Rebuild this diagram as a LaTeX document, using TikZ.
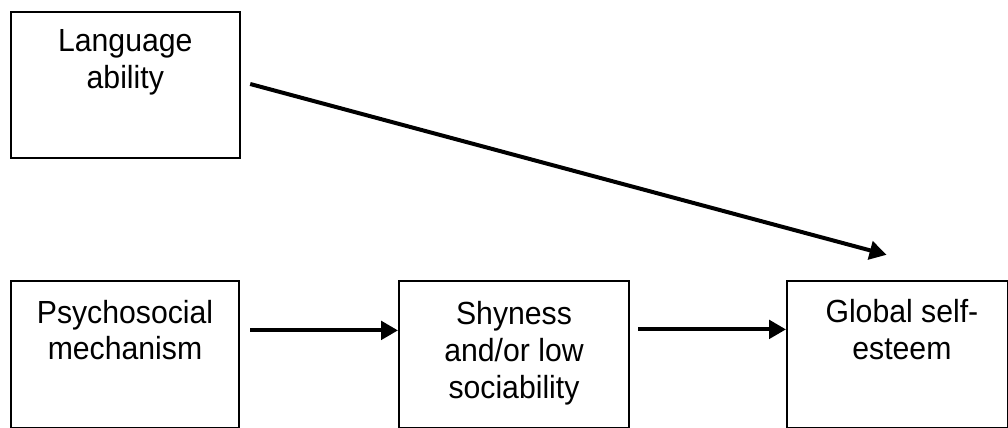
\documentclass[tikz,border=0pt]{standalone}
\usepackage{fontspec}
\setmainfont{Liberation Sans}[FakeStretch=0.944]
\usetikzlibrary{positioning,arrows.meta}
\begin{document}
\begin{tikzpicture}[
		box/.style={draw, line width=1pt, inner sep=0pt, anchor=north west},
		boxtext/.style={align=center, inner sep=0pt, font=\fontsize{16pt}{18.3pt}\selectfont},
		arr/.style={line width=2pt, -{Triangle[length=8.5pt,width=9.2pt]}}
	]
		\useasboundingbox (0,0) rectangle (504pt,-214pt);
		\node [box, minimum width=114.3pt, minimum height=73.2pt] (lang) at (5pt,-5.5pt) {};
		\node [box, minimum width=114pt, minimum height=73.2pt] (psy) at (5pt,-140.2pt) {};
		\node [box, minimum width=115pt, minimum height=73.2pt] (shy) at (199pt,-140.2pt) {};
		\node [box, minimum width=110.3pt, minimum height=73.2pt] (glob) at (393pt,-140.2pt) {};
		\node [boxtext, below=9.2pt of lang.north] (langtext) {Language\\ability};
		\node [boxtext, below=9.6pt of psy.north] (psytext) {Psychosocial\\mechanism};
		\node [boxtext, below=10.5pt of shy.north] (shytext) {Shyness\\and/or low\\sociability};
		\node [boxtext, below=9.3pt of glob.north, xshift=2.3pt] (globtext) {Global self-\\esteem};
		\draw[arr] ([shift={(4.8pt,-36.5pt)}]lang.north east) -- ([shift={(50.3pt,12.8pt)}]glob.north west);
		\draw[arr] ([shift={(5pt,-25pt)}]psy.north east) -- ([yshift=-25pt]shy.north west);
		\draw[arr] ([shift={(4pt,-24.5pt)}]shy.north east) -- ([yshift=-24.5pt]glob.north west);
	\end{tikzpicture}
\end{document}
